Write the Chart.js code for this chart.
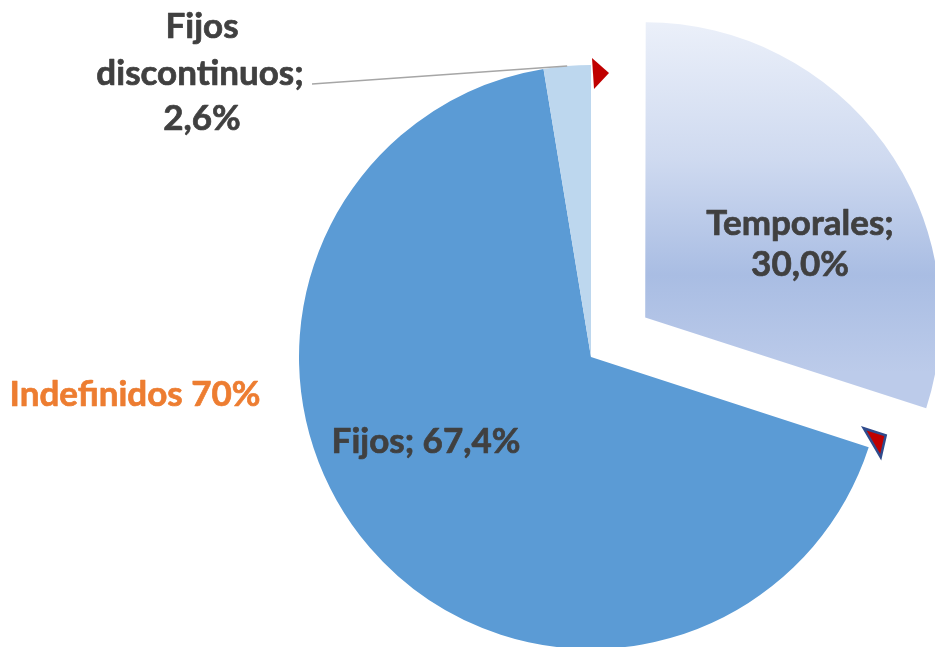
<!DOCTYPE html>
<html>
<head>
<meta charset="utf-8">
<script src="https://cdn.jsdelivr.net/npm/chart.js@4.4.1/dist/chart.umd.min.js"></script>
<style>
  html, body { margin: 0; padding: 0; background: #ffffff; }
  #wrap { width: 935px; height: 647px; position: relative; }
</style>
</head>
<body>
<div id="wrap"><canvas id="c" width="935" height="647"></canvas></div>
<script>
// ---- Data ----
const categories = ['Temporales', 'Fijos', 'Fijos discontinuos'];
const values = [30.0, 67.4, 2.6];
const valueLabels = ['30,0%', '67,4%', '2,6%'];
const groupLabel = 'Indefinidos 70%';

// ---- Styles ----
const sliceColors = [null, '#5b9bd5', '#bdd7ee'];
const textColor = '#404040';
const groupColor = '#ed7d31';
const FONT = 'bold 35px Lato, "Open Sans", sans-serif';

function temporalesGradient(chart) {
  const g = chart.ctx.createLinearGradient(0, 22, 0, 412);
  g.addColorStop(0, '#f3f6fc');
  g.addColorStop(0.45, '#cfdaf0');
  g.addColorStop(0.75, '#a9bde3');
  g.addColorStop(1, '#bccbea');
  return g;
}

function label(ctx, text, x, y) {
  ctx.fillText(text, x, y);
  ctx.strokeText(text, x, y);
}

const labelPlugin = {
  id: 'labels',
  afterDatasetsDraw(chart) {
    const ctx = chart.ctx;
    const meta = chart.getDatasetMeta(0);
    const a0 = meta.data[0];
    const a2 = meta.data[2];
    const r = a0.outerRadius;
    const cx = a0.x, cy = a0.y;

    // red arrow markers at the original position of the exploded slice
    const A = { x: cx + r * Math.cos(a0.startAngle), y: cy + r * Math.sin(a0.startAngle) };
    const B = { x: cx + r * Math.cos(a0.endAngle), y: cy + r * Math.sin(a0.endAngle) };
    ctx.save();
    ctx.fillStyle = '#c00000';
    ctx.beginPath();
    ctx.moveTo(A.x + 1, A.y - 7);
    ctx.lineTo(A.x + 18, A.y + 8);
    ctx.lineTo(A.x + 3, A.y + 24);
    ctx.closePath();
    ctx.fill();
    ctx.beginPath();
    ctx.moveTo(B.x - 5, B.y - 19);
    ctx.lineTo(B.x + 17, B.y - 12);
    ctx.lineTo(B.x + 12, B.y + 10);
    ctx.closePath();
    ctx.fill();
    ctx.strokeStyle = '#2f4b8c';
    ctx.lineWidth = 2.5;
    ctx.lineJoin = 'miter';
    ctx.stroke();

    // leader line for small slice
    const mid = (a2.startAngle + a2.endAngle) / 2;
    ctx.strokeStyle = '#a6a6a6';
    ctx.lineWidth = 1.5;
    ctx.beginPath();
    ctx.moveTo(312, 84);
    ctx.lineTo(cx + r * Math.cos(mid), cy + r * Math.sin(mid));
    ctx.stroke();

    // text labels
    ctx.font = FONT;
    ctx.textAlign = 'center';
    ctx.textBaseline = 'alphabetic';
    ctx.lineWidth = 0.7;
    ctx.lineJoin = 'round';
    ctx.fillStyle = textColor;
    ctx.strokeStyle = textColor;
    label(ctx, categories[0] + ';', 800, 235);
    label(ctx, valueLabels[0], 800, 276);
    label(ctx, categories[1] + '; ' + valueLabels[1], 426, 453);
    const parts = categories[2].split(' ');
    label(ctx, parts[0], 202, 38);
    label(ctx, parts[1] + ';', 200, 85);
    label(ctx, valueLabels[2], 202, 130);
    ctx.fillStyle = groupColor;
    ctx.strokeStyle = groupColor;
    label(ctx, groupLabel, 135, 406);
    ctx.restore();
  }
};

new Chart(document.getElementById('c'), {
  type: 'pie',
  data: {
    labels: categories,
    datasets: [{
      data: values,
      backgroundColor: (c) => c.dataIndex === 0 ? temporalesGradient(c.chart) : sliceColors[c.dataIndex],
      borderWidth: 0,
      offset: [268, 0, 0],
      hoverOffset: 0,
      clip: false
    }]
  },
  options: {
    responsive: false,
    animation: false,
    events: [],
    radius: 292,
    layout: { padding: { left: 247, top: 67, right: 0, bottom: 0 } },
    plugins: { legend: { display: false }, tooltip: { enabled: false } }
  },
  plugins: [labelPlugin]
});
</script>
</body>
</html>
